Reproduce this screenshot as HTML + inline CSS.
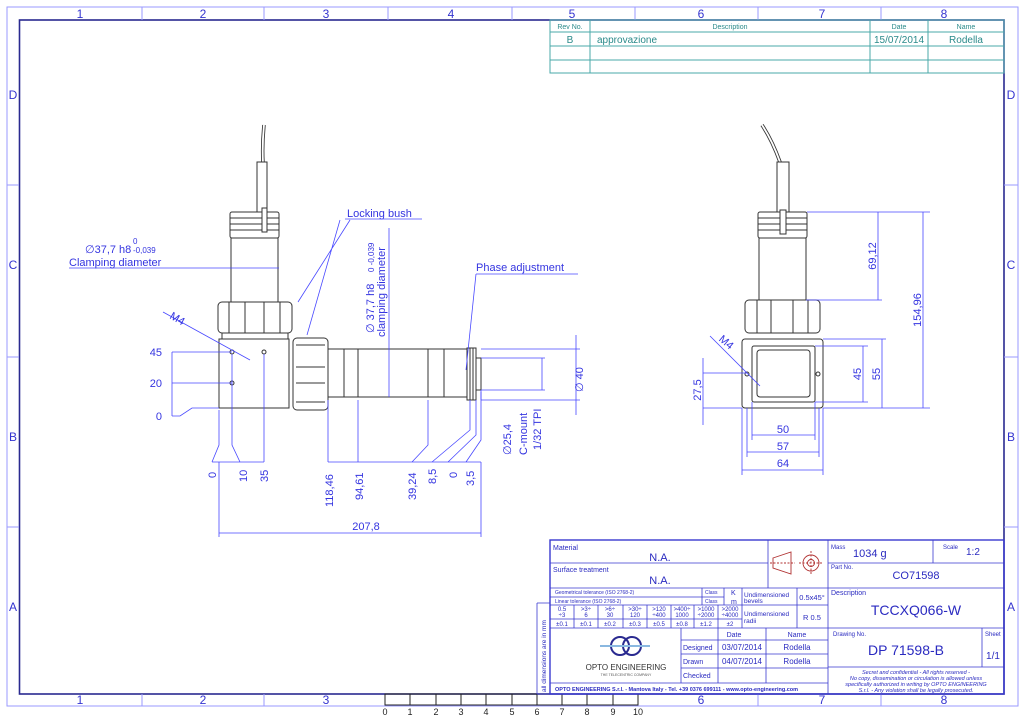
<!DOCTYPE html>
<html><head><meta charset="utf-8"><style>
html,body{margin:0;padding:0;background:#fff}
svg{display:block}
text{font-family:"Liberation Sans",sans-serif}
</style></head><body>
<svg width="1024" height="715" viewBox="0 0 1024 715" xmlns="http://www.w3.org/2000/svg">
<!-- frame -->
<g fill="none">
<rect x="7" y="7" width="1011" height="699" stroke="#9a9aff" stroke-width="1"/>
<rect x="19.5" y="20" width="984.5" height="674" stroke="#2a2a90" stroke-width="1.6"/>
<g stroke="#9a9aff" stroke-width="1">
<line x1="142" y1="7" x2="142" y2="20"/><line x1="264" y1="7" x2="264" y2="20"/><line x1="388" y1="7" x2="388" y2="20"/><line x1="512" y1="7" x2="512" y2="20"/><line x1="635" y1="7" x2="635" y2="20"/><line x1="758" y1="7" x2="758" y2="20"/><line x1="881" y1="7" x2="881" y2="20"/>
<line x1="142" y1="694" x2="142" y2="706"/><line x1="264" y1="694" x2="264" y2="706"/><line x1="758" y1="694" x2="758" y2="706"/><line x1="881" y1="694" x2="881" y2="706"/>
<line x1="7" y1="185" x2="19" y2="185"/><line x1="7" y1="357" x2="19" y2="357"/><line x1="7" y1="527" x2="19" y2="527"/>
<line x1="1004" y1="185" x2="1018" y2="185"/><line x1="1004" y1="357" x2="1018" y2="357"/><line x1="1004" y1="527" x2="1018" y2="527"/>
</g>
</g>
<g fill="#3434d0" font-size="12" text-anchor="middle">
<text x="80" y="18">1</text><text x="203" y="18">2</text><text x="326" y="18">3</text><text x="451" y="18">4</text><text x="572" y="18">5</text><text x="701" y="18">6</text><text x="822" y="18">7</text><text x="944" y="18">8</text>
<text x="80" y="704">1</text><text x="203" y="704">2</text><text x="326" y="704">3</text><text x="701" y="704">6</text><text x="822" y="704">7</text><text x="944" y="704">8</text>
<text x="13" y="99">D</text><text x="13" y="269">C</text><text x="13" y="441">B</text><text x="13" y="611">A</text>
<text x="1011" y="99">D</text><text x="1011" y="269">C</text><text x="1011" y="441">B</text><text x="1011" y="611">A</text>
</g>
<!-- ruler -->
<g stroke="#222" stroke-width="1" fill="none">
<rect x="385" y="694" width="253" height="11"/>
<path d="M410 694V705M436 694V705M461 694V705M486 694V705M512 694V705M537 694V705M562 694V705M587 694V705M613 694V705"/>
</g>
<g fill="#222" font-size="9" text-anchor="middle">
<text x="385" y="715">0</text><text x="410" y="715">1</text><text x="436" y="715">2</text><text x="461" y="715">3</text><text x="486" y="715">4</text><text x="512" y="715">5</text><text x="537" y="715">6</text><text x="562" y="715">7</text><text x="587" y="715">8</text><text x="613" y="715">9</text><text x="638" y="715">10</text>
</g>
<!-- revision table -->
<g stroke="#4aa8a8" stroke-width="1" fill="none">
<rect x="550" y="20" width="454" height="53"/>
<path d="M550 32H1004M550 46H1004M550 60H1004M590 20V73M870 20V73M928 20V73"/>
</g>
<g fill="#2a8a8a" text-anchor="middle">
<text x="570" y="29" font-size="7">Rev No.</text><text x="730" y="29" font-size="7">Description</text><text x="899" y="29" font-size="7">Date</text><text x="966" y="29" font-size="7">Name</text>
<text x="570" y="43" font-size="10">B</text><text x="597" y="43" font-size="10" text-anchor="start">approvazione</text><text x="899" y="43" font-size="10">15/07/2014</text><text x="966" y="43" font-size="10">Rodella</text>
</g>
<!-- LEFT VIEW drawing -->
<g stroke="#333" stroke-width="1" fill="#fff">
<path d="M264 125 Q262 145 263 163" fill="none" stroke-width="3.5"/>
<path d="M264 125 Q262 145 263 163" fill="none" stroke="#fff" stroke-width="1.8"/>
<rect x="257" y="162" width="10" height="50"/>
<rect x="230" y="212" width="49" height="26" rx="2"/>
<path d="M230 218H279M230 224H279M230 230H279" fill="none"/>
<rect x="262" y="208" width="5" height="24"/>
<rect x="231" y="238" width="47" height="64"/>
<rect x="218" y="302" width="74" height="31" rx="4"/>
<path d="M229 302V333M245 302V333M264 302V333M280 302V333" fill="none"/>
<rect x="222" y="333" width="66" height="6"/>
<rect x="219" y="339" width="70" height="69"/>
<rect x="293" y="338" width="35" height="72" rx="4"/>
<path d="M296 345H325M296 367H325M296 383H325M296 402H325" fill="none"/>
<rect x="328" y="349" width="139" height="48"/>
<path d="M344 349V397M358 349V397M428 349V397M444 349V397" fill="none"/>
<rect x="467" y="348" width="9" height="52"/>
<path d="M470 348V400M473 348V400" fill="none"/>
<rect x="476" y="358" width="5" height="32"/>
<circle cx="232" cy="352" r="2"/><circle cx="264" cy="352" r="2"/><circle cx="232" cy="383" r="2"/>
</g>
<!-- left dims -->
<g stroke="#4848ff" stroke-width="0.8" fill="none">
<line x1="69" y1="268" x2="279" y2="268"/>
<path d="M172 352H232M172 383H232M172 352V416M172 416H180L192 408H219"/>
<path d="M219 410V445L212 462M232 354V445L240 462M264 354V462M212 462H264"/>
<path d="M328 400V462M358 400V462M428 400V445L412 462M470 400V430L432 462M476 400V435L448 462M481 392V440L466 462M328 462H481"/>
<path d="M219 462V537M481 462V537M219 533H481"/>
<path d="M389 228V397"/>
<path d="M481 349H580M481 400H580M576 335V415M481 358H545M481 390H545M542 358V390M481 390V400"/>
<path d="M163 312L250 360M350 220L298 302M340 220L307 335"/>
<path d="M476 274H578M476 274L466 370"/>
</g>
<g fill="#3434e0" font-size="11">
<text x="85" y="253">∅37,7 h8</text><text x="133" y="244" font-size="8">0</text><text x="133" y="253" font-size="8">-0,039</text>
<text x="69" y="266">Clamping diameter</text>
<text x="347" y="217">Locking bush</text><line x1="345" y1="219" x2="422" y2="219" stroke="#4848ff" stroke-width="0.8"/>
<text x="476" y="271">Phase adjustment</text>
<text x="162" y="356" text-anchor="end">45</text><text x="162" y="387" text-anchor="end">20</text><text x="162" y="420" text-anchor="end">0</text>
<text x="169" y="318" transform="rotate(30 169 318)">M4</text>
<text x="366" y="530" text-anchor="middle">207,8</text>
</g>
<g fill="#3434e0" font-size="11">
<text transform="translate(216,478) rotate(-90)">0</text>
<text transform="translate(247,482) rotate(-90)">10</text>
<text transform="translate(268,482) rotate(-90)">35</text>
<text transform="translate(333,507) rotate(-90)">118,46</text>
<text transform="translate(363,500) rotate(-90)">94,61</text>
<text transform="translate(416,500) rotate(-90)">39,24</text>
<text transform="translate(436,484) rotate(-90)">8,5</text>
<text transform="translate(457,478) rotate(-90)">0</text>
<text transform="translate(474,486) rotate(-90)">3,5</text>
<text transform="translate(583,392) rotate(-90)">∅ 40</text>
<text transform="translate(511,455) rotate(-90)">∅25,4</text>
<text transform="translate(527,455) rotate(-90)">C-mount</text>
<text transform="translate(541,450) rotate(-90)">1/32 TPI</text>
<text transform="translate(374,333) rotate(-90)">∅ 37,7 h8</text>
<text transform="translate(374,272) rotate(-90)" font-size="8">0 -0,039</text>
<text transform="translate(385,337) rotate(-90)">clamping diameter</text>
</g>
<!-- RIGHT VIEW -->
<g stroke="#333" stroke-width="1" fill="#fff">
<path d="M762 125 Q772 140 780 162" fill="none" stroke-width="3.5"/>
<path d="M762 125 Q772 140 780 162" fill="none" stroke="#fff" stroke-width="1.8"/>
<rect x="777" y="162" width="12" height="50"/>
<rect x="758" y="212" width="49" height="26" rx="2"/>
<path d="M758 218H807M758 224H807M758 230H807" fill="none"/>
<rect x="780" y="210" width="6" height="24"/>
<rect x="759" y="238" width="47" height="62"/>
<rect x="745" y="300" width="75" height="33" rx="4"/>
<path d="M757 300V333M771 300V333M793 300V333M808 300V333" fill="none"/>
<rect x="742" y="339" width="81" height="69" rx="3"/>
<rect x="752" y="346" width="63" height="56" rx="2"/>
<rect x="757" y="350" width="53" height="47" rx="3"/>
<circle cx="747" cy="374" r="2"/><circle cx="818" cy="374" r="2"/>
</g>
<g stroke="#4848ff" stroke-width="0.8" fill="none">
<path d="M807 212H930M806 300H882M878 212V300M923 212V408M815 346H868M815 402H868M863 346V402M823 339H886M823 408H930M882 339V408"/>
<path d="M742 408V475M823 408V475M752 402V440M815 402V440M747 408V457M819 408V457M752 435H815M747 452H819M742 470H823"/>
<path d="M703 373H747M703 408H742M703 358V425M710 336L760 386"/>
</g>
<g fill="#3434e0" font-size="11" text-anchor="middle">
<text x="783" y="433">50</text><text x="783" y="450">57</text><text x="783" y="467">64</text>
<text transform="translate(876,256) rotate(-90)">69,12</text>
<text transform="translate(921,310) rotate(-90)">154,96</text>
<text transform="translate(861,374) rotate(-90)">45</text>
<text transform="translate(880,374) rotate(-90)">55</text>
<text transform="translate(701,390) rotate(-90)">27,5</text>
<text x="724" y="345" transform="rotate(40 724 345)">M4</text>
</g>
<!-- TITLE BLOCK -->
<g stroke="#3a3ad0" stroke-width="0.8" fill="none">
<rect x="550" y="540" width="454" height="154" stroke-width="1.4"/>
<path d="M550 563H768M550 588H828M768 540V588M828 540V694M828 563H1004M828 588H1004M828 628H1004M828 667H1004M933 540V563M982 628V667"/>
<path d="M550 597H724M550 605H742M537 603H550M537 603V694M537 694H550M550 619H742M550 628H828M742 588V628M797 588V628M742 605H828"/>
<path d="M574 605V628M598 605V628M623 605V628M647 605V628M671 605V628M694 605V628M718 605V628M702 588V605M724 588V605"/>
<path d="M681 628V683M718 628V683M766 628V683M681 640H828M681 654H828M681 668H828M550 683H828"/>
</g>
<g fill="#2a2ac0">
<text x="553" y="550" font-size="7">Material</text><text x="660" y="561" font-size="11" text-anchor="middle">N.A.</text>
<text x="553" y="572" font-size="7">Surface treatment</text><text x="660" y="584" font-size="11" text-anchor="middle">N.A.</text>
<text x="555" y="594" font-size="5">Geometrical tolerance (ISO 2768-2)</text><text x="555" y="603" font-size="5">Linear tolerance (ISO 2768-2)</text>
<text x="705" y="594" font-size="5">Class</text><text x="705" y="603" font-size="5">Class</text><text x="731" y="595" font-size="7">K</text><text x="731" y="604" font-size="7">m</text>
<g font-size="6" text-anchor="middle"><text x="562" y="611">0.5</text><text x="562" y="617">÷3</text><text x="586" y="611">&gt;3÷</text><text x="586" y="617">6</text><text x="610" y="611">&gt;6÷</text><text x="610" y="617">30</text><text x="635" y="611">&gt;30÷</text><text x="635" y="617">120</text><text x="659" y="611">&gt;120</text><text x="659" y="617">÷400</text><text x="682" y="611">&gt;400÷</text><text x="682" y="617">1000</text><text x="706" y="611">&gt;1000</text><text x="706" y="617">÷2000</text><text x="730" y="611">&gt;2000</text><text x="730" y="617">÷4000</text>
<text x="562" y="626">±0.1</text><text x="586" y="626">±0.1</text><text x="610" y="626">±0.2</text><text x="635" y="626">±0.3</text><text x="659" y="626">±0.5</text><text x="682" y="626">±0.8</text><text x="706" y="626">±1.2</text><text x="730" y="626">±2</text></g>
<text x="744" y="597" font-size="6.5">Undimensioned</text><text x="744" y="603" font-size="6.5">bevels</text><text x="812" y="600" font-size="7.5" text-anchor="middle">0.5x45°</text>
<text x="744" y="616" font-size="6.5">Undimensioned</text><text x="744" y="623" font-size="6.5">radii</text><text x="812" y="620" font-size="7.5" text-anchor="middle">R 0.5</text>
<text x="831" y="549" font-size="6">Mass</text><text x="853" y="557" font-size="11">1034 g</text><text x="943" y="549" font-size="6">Scale</text><text x="966" y="555" font-size="10">1:2</text>
<text x="831" y="569" font-size="6">Part No.</text><text x="916" y="579" font-size="11" text-anchor="middle">CO71598</text>
<text x="831" y="595" font-size="7">Description</text><text x="916" y="615" font-size="14" text-anchor="middle">TCCXQ066-W</text>
<text x="833" y="636" font-size="6">Drawing No.</text><text x="906" y="655" font-size="14" text-anchor="middle">DP 71598-B</text>
<text x="985" y="636" font-size="6">Sheet</text><text x="993" y="659" font-size="10" text-anchor="middle">1/1</text>
<g font-size="5.5" font-style="italic" text-anchor="middle"><text x="916" y="674">Secret and confidential - All rights reserved -</text><text x="916" y="680">No copy, dissemination or circulation is allowed unless</text><text x="916" y="686">specifically authorized in writing by OPTO ENGINEERING</text><text x="916" y="692">S.r.l. - Any violation shall be legally prosecuted.</text></g>
<text x="734" y="637" font-size="7" text-anchor="middle">Date</text><text x="797" y="637" font-size="7" text-anchor="middle">Name</text>
<text x="683" y="650" font-size="7">Designed</text><text x="742" y="650" font-size="8" text-anchor="middle">03/07/2014</text><text x="797" y="650" font-size="8" text-anchor="middle">Rodella</text>
<text x="683" y="664" font-size="7">Drawn</text><text x="742" y="664" font-size="8" text-anchor="middle">04/07/2014</text><text x="797" y="664" font-size="8" text-anchor="middle">Rodella</text>
<text x="683" y="678" font-size="7">Checked</text>
<text x="555" y="691" font-size="5.5" font-weight="bold">OPTO ENGINEERING S.r.l.  -  Mantova Italy -  Tel. +39 0376 699111  -  www.opto-engineering.com</text>
<text transform="translate(546,692) rotate(-90)" font-size="6.5">all dimensions are in mm</text>
</g>
<!-- logo -->
<g>
<circle cx="620" cy="646" r="9" fill="none" stroke="#2a2a90" stroke-width="2"/>
<circle cx="632" cy="646" r="9" fill="none" stroke="#2a2a90" stroke-width="2"/>
<path d="M600 646H650" stroke="#8ab8e0" stroke-width="2"/>
<text x="626" y="670" font-size="8" fill="#333" text-anchor="middle">OPTO ENGINEERING</text>
<text x="626" y="676" font-size="3.5" fill="#555" text-anchor="middle">THE TELECENTRIC COMPANY</text>
</g>
<!-- projection symbol -->
<g stroke="#b03030" fill="none" stroke-width="0.9">
<path d="M773 558L791 552V574L773 568Z"/>
<circle cx="811" cy="563" r="8"/><circle cx="811" cy="563" r="3.5"/>
<path d="M799 563H823M811 551V575M770 563H795" stroke-dasharray="2 1.5"/>
</g>
</svg>
</body></html>
